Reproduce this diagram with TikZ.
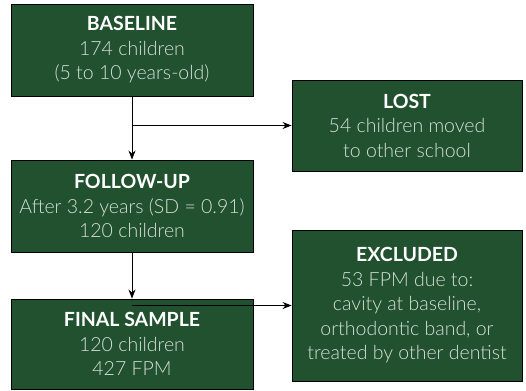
\documentclass[tikz,border=0pt]{standalone}
\usepackage{fontspec}
\setmainfont{Lato}[UprightFont=* Light, BoldFont=* Bold]
\usetikzlibrary{arrows.meta}
\definecolor{boxgreen}{HTML}{21512F}
\definecolor{lighttext}{HTML}{D6E0D8}
\tikzset{
  stage/.style={draw=black, line width=0.9pt, fill=boxgreen, text=lighttext, align=center,
    font=\fontsize{19.5}{24.5}\selectfont, inner sep=0pt},
  flow/.style={draw=black, line width=0.9pt, -{Stealth[length=9pt,width=7pt]}}
}
\newcommand{\hd}[1]{{\bfseries\color{white}#1}}
\begin{document}
\begin{tikzpicture}[x=1pt,y=-1pt]
\useasboundingbox (0,0) rectangle (526,390);
\node[stage, minimum width=242pt, minimum height=92pt] (base) at (132,50)
  {\hd{BASELINE}\\174 children\\(5 to 10 years-old)};
\node[stage, minimum width=230pt, minimum height=91pt] (lost) at (407,125.5)
  {\hd{LOST}\\54 children moved\\to other school};
\node[stage, minimum width=242pt, minimum height=92pt] (follow) at (132,206)
  {\hd{FOLLOW-UP}\\After 3.2 years (SD = 0.91)\\120 children};
\node[stage, minimum width=230pt, minimum height=151pt] (excl) at (407,305.5)
  {\hd{EXCLUDED}\\53 FPM due to:\\cavity at baseline,\\orthodontic band, or\\treated by other dentist};
\node[stage, minimum width=242pt, minimum height=90pt] (final) at (132,344)
  {\hd{FINAL SAMPLE}\\120 children\\427 FPM};
\coordinate (b1) at (base.south |- lost.west);
\coordinate (b2) at (follow.south |- excl.west);
\draw[flow] (base.south) -- (follow.north);
\draw[flow] (follow.south) -- (final.north);
\draw[flow] (b1) -- (lost.west);
\draw[flow] (b2) -- (excl.west);
\end{tikzpicture}
\end{document}
